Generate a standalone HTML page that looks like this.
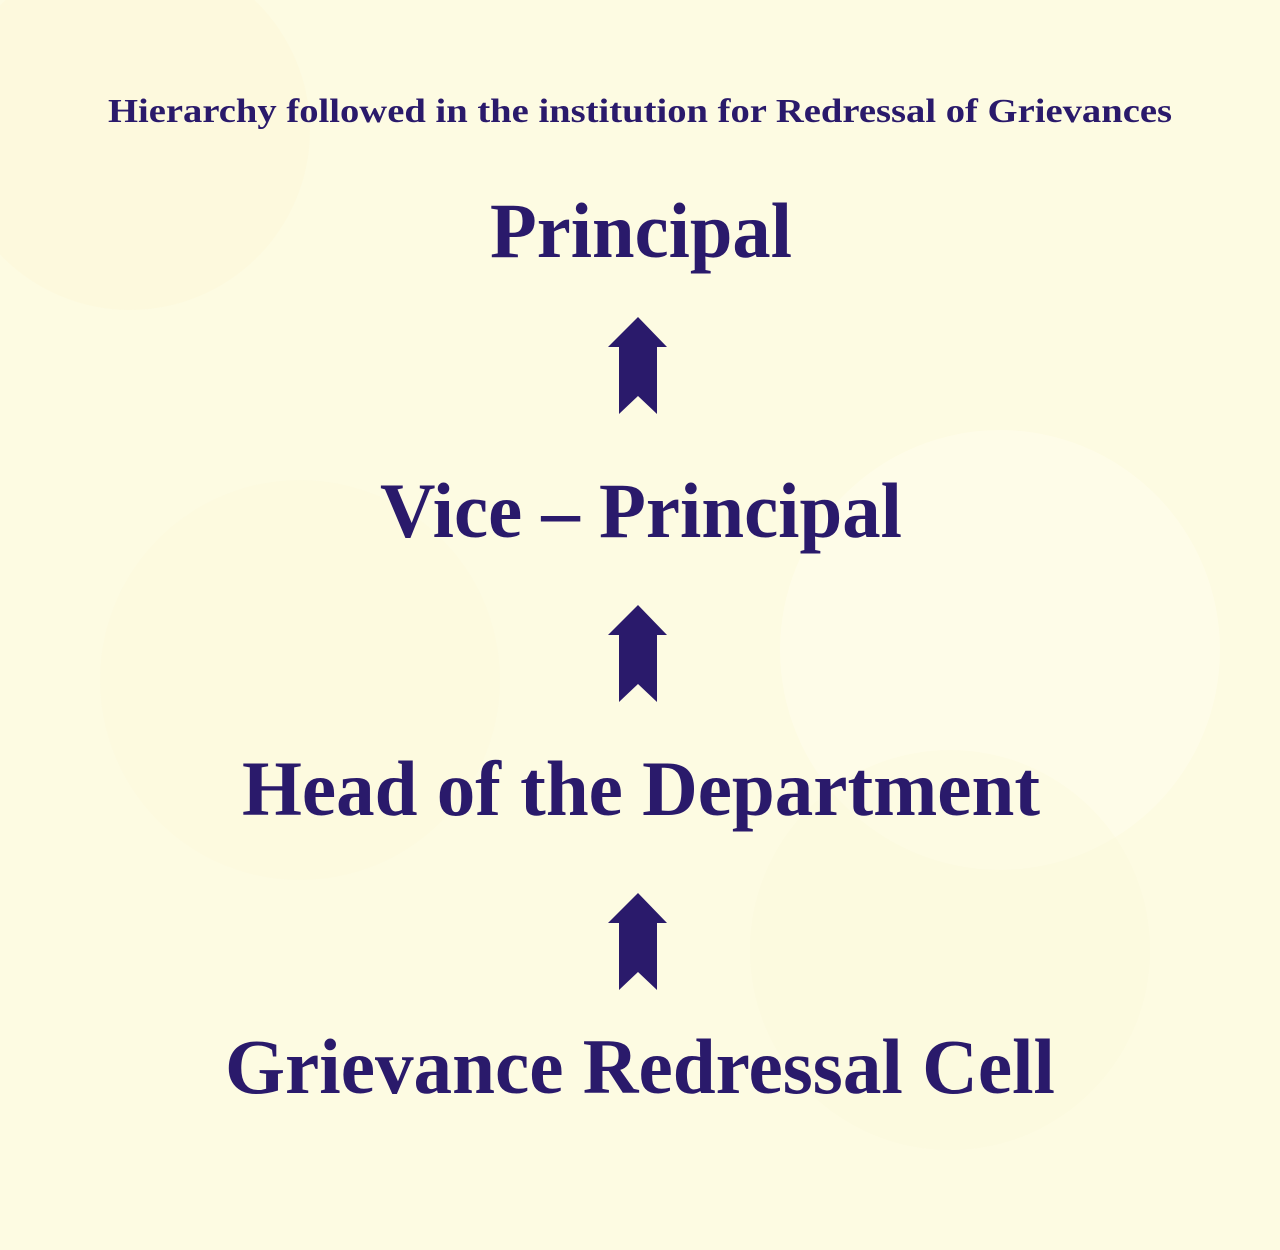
<!DOCTYPE html>
<html><head><meta charset="utf-8"><style>
html,body{margin:0;padding:0;width:1280px;height:1250px;overflow:hidden;background:#fdfbe2;}
svg{display:block}
text{font-family:"Liberation Serif",serif;font-weight:bold;fill:#2a1a6b;}
</style></head><body>
<svg width="1280" height="1250" viewBox="0 0 1280 1250">
<rect width="1280" height="1250" fill="#fdfbe2"/>
<circle cx="130" cy="130" r="180" fill="#fcf8d8" opacity="0.4"/>
<circle cx="1000" cy="650" r="220" fill="#fffdee" opacity="0.5"/>
<circle cx="300" cy="680" r="200" fill="#fcf9dc" opacity="0.4"/>
<circle cx="950" cy="950" r="200" fill="#fbf7d6" opacity="0.3"/>
<text x="640" y="122" font-size="34" text-anchor="middle" textLength="1064" lengthAdjust="spacingAndGlyphs">Hierarchy followed in the institution for Redressal of Grievances</text>
<text x="641" y="257" font-size="78" text-anchor="middle" textLength="302" lengthAdjust="spacingAndGlyphs">Principal</text>
<text x="641" y="537" font-size="78" text-anchor="middle" textLength="522" lengthAdjust="spacingAndGlyphs">Vice – Principal</text>
<text x="641" y="815" font-size="78" text-anchor="middle" textLength="798" lengthAdjust="spacingAndGlyphs">Head of the Department</text>
<text x="640" y="1093" font-size="78" text-anchor="middle" textLength="830" lengthAdjust="spacingAndGlyphs">Grievance Redressal Cell</text>
<g fill="#2a1a6b">
<path id="a" d="M638 317 L667 347 L657 347 L657 414 L638 396 L619 414 L619 347 L608 347 Z"/>
<use href="#a" y="288"/>
<use href="#a" y="576"/>
</g>
</svg>
</body></html>
